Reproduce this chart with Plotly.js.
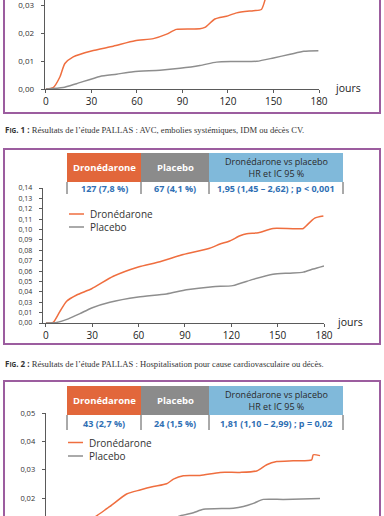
<!DOCTYPE html>
<html>
<head>
<meta charset="utf-8">
<script src="https://cdn.plot.ly/plotly-3.0.1.min.js"></script>
<style>html,body{margin:0;padding:0;background:#fff;}#chart{width:384px;height:516px;}</style>
</head>
<body>
<div id="chart"></div>
<script>
// ---------- DATA ----------
// Fig. 1 (top, cropped): AVC, embolies systémiques, IDM ou décès CV
const fig1DroneDays = [0, 4.8, 9.2, 12.5, 18, 30, 44.4, 58.7, 70.8, 79.6, 86, 101.5, 104.8, 111.4, 119, 125.7, 136.7, 142, 144.4, 146, 150];
const fig1DroneVals = [0, 0.0005, 0.0043, 0.0091, 0.0115, 0.0136, 0.0153, 0.0172, 0.018, 0.0196, 0.0213, 0.0215, 0.022, 0.025, 0.026, 0.0272, 0.028, 0.0284, 0.0318, 0.036, 0.040];
const fig1PlaceboDays = [0, 11.4, 20.2, 35.6, 46.6, 57.6, 75.2, 88.4, 101.5, 112.5, 123.5, 139, 150, 161, 170, 179.6];
const fig1PlaceboVals = [0, 0.0005, 0.0019, 0.0045, 0.0053, 0.0062, 0.0067, 0.0074, 0.0084, 0.0096, 0.0098, 0.0099, 0.0111, 0.0124, 0.0135, 0.0137];

// Fig. 2: hospitalisation CV ou décès (values are positions on the printed axis)
const fig2Ticks = ["0,00","0,01","0,03","0,04","0,05","0,06","0,07","0,08","0,09","0,10","0,11","0,12","0,13","0,14"];
const fig2DroneDays = [0, 4.7, 9, 13.4, 19.9, 29.6, 43.6, 59.8, 73.8, 88.9, 106, 112.7, 119, 125.6, 130, 137.5, 147, 166.6, 168.8, 174, 179.6];
const fig2DroneVals = [0, 0.0006, 0.011, 0.021, 0.027, 0.033, 0.045, 0.054, 0.059, 0.066, 0.072, 0.076, 0.079, 0.084, 0.086, 0.087, 0.091, 0.091, 0.094, 0.101, 0.103];
const fig2PlaceboDays = [0, 7, 14.5, 22, 29.6, 41.4, 59.8, 78, 91, 108, 121, 134, 147, 158, 166.6, 173, 180];
const fig2PlaceboVals = [0, 0.0006, 0.004, 0.009, 0.0145, 0.02, 0.025, 0.028, 0.032, 0.035, 0.036, 0.042, 0.047, 0.048, 0.049, 0.052, 0.055];

// Fig. 3 (bottom, cropped)
const fig3DroneDays = [0, 8, 16, 24, 32.8, 41.4, 52.2, 60.9, 69.5, 78.1, 82.5, 88.9, 99.7, 112.7, 125.6, 136.4, 142.9, 149.4, 160, 172, 173, 177.4];
const fig3DroneVals = [0, 0.002, 0.006, 0.010, 0.0138, 0.0171, 0.0215, 0.0229, 0.0241, 0.0251, 0.0267, 0.0279, 0.028, 0.0291, 0.0291, 0.0296, 0.0318, 0.0329, 0.0332, 0.0335, 0.0353, 0.035];
const fig3PlaceboDays = [0, 20, 40, 60, 75, 86.8, 95.4, 101.9, 121.3, 127.8, 134.3, 140.7, 153.7, 177.4];
const fig3PlaceboVals = [0, 0.002, 0.005, 0.008, 0.011, 0.0138, 0.0149, 0.0161, 0.0165, 0.0171, 0.0182, 0.0196, 0.0196, 0.0199];

const xTicks = [0, 30, 60, 90, 120, 150, 180];
const seriesNames = ["Dronédarone", "Placebo"];
const tableHeaders = ["Dronédarone", "Placebo", "Dronédarone vs placebo<br>HR et IC 95 %"];
const table2Values = ["127 (7,8 %)", "67 (4,1 %)", "1,95 (1,45 – 2,62) ; p < 0,001"];
const table3Values = ["43 (2,7 %)", "24 (1,5 %)", "1,81 (1,10 – 2,99) ; p = 0,02"];
const captions = [
  "Résultats de l’étude PALLAS : AVC, embolies systémiques, IDM ou décès CV.",
  "Résultats de l’étude PALLAS : Hospitalisation pour cause cardiovasculaire ou décès."
];

// ---------- STYLE ----------
const W = 384, H = 516;
const X = px => px / W;
const Y = py => 1 - py / H;
const ORANGE = "#ef6e3f", GREY = "#8e8e8e", PURPLE = "#9c5d9f";
const AXC = "#5a5a5a";
const FONT = "Open Sans, sans-serif";

function line(xs, ys, color, xa, ya) {
  return {x: xs, y: ys, xaxis: xa, yaxis: ya, type: "scatter", mode: "lines",
    line: {color: color, width: 1.5, shape: "spline", smoothing: 0.6},
    showlegend: false, hoverinfo: "skip"};
}
const traces = [
  line(fig1DroneDays, fig1DroneVals, ORANGE, "x", "y"),
  line(fig1PlaceboDays, fig1PlaceboVals, GREY, "x", "y"),
  line(fig2DroneDays, fig2DroneVals, ORANGE, "x2", "y2"),
  line(fig2PlaceboDays, fig2PlaceboVals, GREY, "x2", "y2"),
  line(fig3DroneDays, fig3DroneVals, ORANGE, "x3", "y3"),
  line(fig3PlaceboDays, fig3PlaceboVals, GREY, "x3", "y3")
];

const xBase = {range: [-1.5, 180], tickvals: xTicks, ticks: "outside", ticklen: 3, tickcolor: AXC,
  showline: true, linecolor: AXC, linewidth: 1.3, showgrid: false, zeroline: false,
  tickfont: {family: FONT, size: 10, color: "#222"}, fixedrange: true};
const yBase = {ticks: "outside", ticklen: 3, tickcolor: AXC, showline: true, linecolor: AXC, linewidth: 1.3,
  showgrid: false, zeroline: false, fixedrange: true, tickformat: ".2f", ticklabelstandoff: 5,
  ticklabeloverflow: "allow"};

const shapes = [];
const annotations = [];
function rect(x0, y0, x1, y1, fill, lineColor, lw) {
  shapes.push({type: "rect", xref: "paper", yref: "paper", x0: X(x0), x1: X(x1), y0: Y(y1), y1: Y(y0),
    fillcolor: fill || "rgba(0,0,0,0)", line: {color: lineColor || "rgba(0,0,0,0)", width: lw || 0}, layer: "below"});
}
function seg(x0, y0, x1, y1, color, w) {
  shapes.push({type: "line", xref: "paper", yref: "paper", x0: X(x0), x1: X(x1), y0: Y(y0), y1: Y(y1),
    line: {color: color, width: w}});
}
function text(t, x, y, size, color, xanchor, extra) {
  annotations.push(Object.assign({text: t, xref: "paper", yref: "paper", x: X(x), y: Y(y), showarrow: false,
    xanchor: xanchor || "center", yanchor: "middle", font: {family: FONT, size: size, color: color}}, extra || {}));
}

// panel frames
rect(4, -20, 380, 113, null, PURPLE, 2);
rect(4, 149, 380, 344, null, PURPLE, 2);
rect(4, 381, 380, 540, null, PURPLE, 2);

// captions
const capFont = "Liberation Serif, serif";
[[129, 1], [363, 2]].forEach(([yy, n], i) => {
  annotations.push({xref: "paper", yref: "paper", x: X(3), y: Y(yy), xanchor: "left", yanchor: "middle", showarrow: false,
    text: "<span style='font-family:Open Sans;font-weight:bold;font-size:8px'>F<span style='font-size:6.5px'>IG</span>. " + n + " :</span> " + captions[i],
    font: {family: capFont, size: 8.6, color: "#333"}});
});

// "jours"
text("jours", 333, 88, 10.5, "#222", "left");
text("jours", 335, 322, 10.5, "#222", "left");

// tables
const colX = [67, 141, 209, 343];
const headFill = ["#e2673b", "#8b8b8b", "#80b9da"];
function table(top, mid, bot, values) {
  for (let i = 0; i < 3; i++) {
    rect(colX[i], top, colX[i + 1], mid, headFill[i]);
    const cx = (colX[i] + colX[i + 1]) / 2;
    if (i < 2) text("<b>" + tableHeaders[i] + "</b>", cx, (top + mid) / 2, 9.5, "#fff");
    else text(tableHeaders[i], cx, (top + mid) / 2, 9, "#2a2a2a", "center", {align: "center"});
    text("<b>" + values[i] + "</b>", cx, (mid + bot) / 2 + 0.5, 9, "#2f6fb4");
  }
  colX.forEach(x => seg(x, mid, x, bot, "#555", 1));
}
table(153, 182, 194, table2Values);
table(386, 415, 430, table3Values);

// legends
function legend(x, y1, y2) {
  seg(x, y1, x + 15, y1, ORANGE, 1.5);
  seg(x, y2, x + 15, y2, GREY, 1.5);
  text(seriesNames[0], x + 19, y1, 10, "#333", "left");
  text(seriesNames[1], x + 19, y2, 10, "#333", "left");
}
legend(69, 214, 227);
legend(68, 442.5, 456);

const layout = {
  width: W, height: H, margin: {l: 0, r: 0, t: 0, b: 0}, paper_bgcolor: "#fff", plot_bgcolor: "rgba(0,0,0,0)",
  separators: ", ", showlegend: false,
  xaxis: Object.assign({}, xBase, {domain: [X(45), X(319)], anchor: "y", range: [-0.6, 180]}),
  yaxis: Object.assign({}, yBase, {domain: [Y(89), 1], anchor: "x", range: [0, 0.0318],
    tickvals: [0, 0.01, 0.02, 0.03], tickfont: {family: FONT, size: 8, color: "#333"}}),
  xaxis2: Object.assign({}, xBase, {domain: [X(43), X(324)], anchor: "y2", range: [-1.9, 180]}),
  yaxis2: Object.assign({}, yBase, {domain: [Y(323), Y(188)], anchor: "x2", range: [0, 0.13],
    tickvals: fig2Ticks.map((t, i) => i * 0.01), ticktext: fig2Ticks, tickfont: {family: FONT, size: 7, color: "#333"}}),
  xaxis3: Object.assign({}, xBase, {domain: [X(46), X(324)], anchor: "y3", range: [0, 180], visible: false}),
  yaxis3: Object.assign({}, yBase, {domain: [0, Y(413)], anchor: "x3", range: [0.01375, 0.05],
    tickvals: [0.02, 0.03, 0.04, 0.05], tickfont: {family: FONT, size: 7.5, color: "#333"}}),
  shapes: shapes, annotations: annotations
};
Plotly.newPlot("chart", traces, layout, {staticPlot: true, displayModeBar: false});
</script>
</body>
</html>
